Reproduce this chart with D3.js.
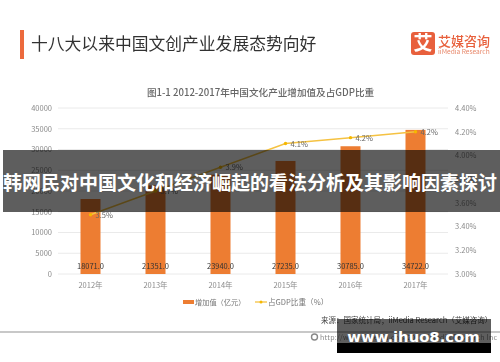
<!DOCTYPE html>
<meta charset="utf-8">
<style>
body { margin: 0; background: #fff; }
text { font-family: "Noto Sans CJK SC", "Noto Sans", sans-serif; }
.axis path, .axis line { display: none; }
.axis text { font-size: 7.5px; fill: #8a8a8a; }
</style>
<div id="chart"></div>
<script src="https://d3js.org/d3.v7.min.js"></script>
<script>
var years = ["2012年", "2013年", "2014年", "2015年", "2016年", "2017年"];
var addedValue = [18071.0, 21351.0, 23940.0, 27235.0, 30785.0, 34722.0];
var gdpShare = [3.5, 3.7, 3.9, 4.1, 4.15, 4.2];
var gdpLabels = ["3.5%", "3.7%", "3.9%", "4.1%", "4.2%", "4.2%"];
var leftTicks = [0, 5000, 10000, 15000, 20000, 25000, 30000, 35000, 40000];
var rightTicks = [3.0, 3.2, 3.4, 3.6, 3.8, 4.0, 4.2, 4.4];

var w = 500, h = 362;

var svg = d3.select("#chart").append("svg")
  .attr("width", w)
  .attr("height", h)
  .style("display", "block");

// the reference is a soft, upscaled screenshot
svg.append("filter").attr("id", "soft")
  .append("feGaussianBlur").attr("stdDeviation", 0.45);

var page = svg.append("g").attr("filter", "url(#soft)");

var x = d3.scaleBand().domain(years).range([58, 448]);
var yLeft = d3.scaleLinear().domain([0, 40000]).range([274, 108]);
var yRight = d3.scaleLinear().domain([3.0, 4.4]).range([274, 108]);

// header
page.append("rect").attr("x", 20).attr("y", 30).attr("width", 4).attr("height", 29).attr("fill", "#ec6a3c");
page.append("text").attr("x", 31).attr("y", 50).attr("font-size", 16.8).attr("fill", "#333")
  .text("十八大以来中国文创产业发展态势向好");

// logo
page.append("rect").attr("x", 411).attr("y", 32).attr("width", 24).attr("height", 23).attr("rx", 3).attr("fill", "#e8613c");
page.append("text").attr("x", 423).attr("y", 50).attr("text-anchor", "middle").attr("font-size", 19).attr("font-weight", 700).attr("fill", "#fff").text("艾");
page.append("text").attr("x", 438).attr("y", 46).attr("font-size", 13).attr("font-weight", 500).attr("fill", "#e8613c").text("艾媒咨询");
page.append("text").attr("x", 438).attr("y", 54).attr("font-size", 6.6).attr("fill", "#e8896c").text("iiMedia Research");

page.append("text").attr("x", 260.5).attr("y", 96).attr("text-anchor", "middle").attr("font-size", 9.6).attr("font-weight", 500).attr("fill", "#666")
  .text("图1-1 2012-2017年中国文化产业增加值及占GDP比重");

// grid
page.append("g").selectAll("line").data(leftTicks).enter().append("line")
  .attr("x1", 58).attr("x2", 448)
  .attr("y1", function (d) { return yLeft(d); })
  .attr("y2", function (d) { return yLeft(d); })
  .attr("stroke", "#eaeaea");

// axes
page.append("g").attr("class", "axis").attr("transform", "translate(52,0)")
  .call(d3.axisLeft(yLeft).tickValues(leftTicks).tickSize(0).tickPadding(0).tickFormat(d3.format("d")));
page.append("g").attr("class", "axis").attr("transform", "translate(455,0)")
  .call(d3.axisRight(yRight).tickValues(rightTicks).tickSize(0).tickPadding(0).tickFormat(function (d) { return d.toFixed(2) + "%"; }));
page.append("g").attr("class", "axis").attr("transform", "translate(0,283)")
  .call(d3.axisBottom(x).tickSize(0).tickPadding(0));

// bars
page.append("g").selectAll("rect").data(addedValue).enter().append("rect")
  .attr("x", function (d, i) { return x(years[i]) + x.bandwidth() / 2 - 10; })
  .attr("y", function (d) { return yLeft(d); })
  .attr("width", 20)
  .attr("height", function (d) { return yLeft(0) - yLeft(d); })
  .attr("fill", "#ed7d31");

page.append("g").selectAll("text").data(addedValue).enter().append("text")
  .attr("x", function (d, i) { return x(years[i]) + x.bandwidth() / 2; })
  .attr("y", 269)
  .attr("text-anchor", "middle")
  .attr("font-size", 7.5)
  .attr("fill", "#333")
  .text(function (d) { return d.toFixed(1); });

// line
var line = d3.line()
  .x(function (d, i) { return x(years[i]) + x.bandwidth() / 2; })
  .y(function (d) { return yRight(d); });

page.append("path").datum(gdpShare)
  .attr("d", line)
  .attr("fill", "none")
  .attr("stroke", "#f5c242")
  .attr("stroke-width", 1.5);

page.append("g").selectAll("circle").data(gdpShare).enter().append("circle")
  .attr("cx", function (d, i) { return x(years[i]) + x.bandwidth() / 2; })
  .attr("cy", function (d) { return yRight(d); })
  .attr("r", 1.7)
  .attr("fill", "#f5b800");

page.append("g").selectAll("text").data(gdpShare).enter().append("text")
  .attr("x", function (d, i) { return x(years[i]) + x.bandwidth() / 2 + 5; })
  .attr("y", function (d) { return yRight(d) + 3; })
  .attr("font-size", 7.5)
  .attr("fill", "#666")
  .text(function (d, i) { return gdpLabels[i]; });

// legend
page.append("rect").attr("x", 183).attr("y", 300).attr("width", 11).attr("height", 4).attr("fill", "#ed7d31");
page.append("text").attr("x", 195).attr("y", 305).attr("font-size", 7.2).attr("fill", "#777").text("增加值（亿元）");
page.append("line").attr("x1", 255).attr("x2", 267).attr("y1", 302).attr("y2", 302).attr("stroke", "#f5c242").attr("stroke-width", 1.3);
page.append("circle").attr("cx", 261).attr("cy", 302).attr("r", 1.5).attr("fill", "#f5b800");
page.append("text").attr("x", 268).attr("y", 305).attr("font-size", 7.6).attr("fill", "#777").text("占GDP比重（%）");

// source + footer
page.append("text").attr("x", 321).attr("y", 323).attr("font-size", 7.5).attr("fill", "#444").text("来源：国家统计局；iiMedia Research（艾媒咨询）");
page.append("rect").attr("x", 0).attr("y", 331).attr("width", w).attr("height", 2).attr("fill", "#c8c8c8");
page.append("circle").attr("cx", 314.5).attr("cy", 337).attr("r", 3).attr("fill", "none").attr("stroke", "#888").attr("stroke-width", 1.4);
page.append("text").attr("x", 320).attr("y", 340).attr("font-size", 7).attr("textLength", 177).attr("fill", "#888")
  .text("http://www.iimedia.cn  ©2018 iiMedia Research Inc");

// overlays sit on top of the chart, sharp
svg.append("rect").attr("x", 3).attr("y", 150).attr("width", 497).attr("height", 62).attr("fill", "#000").attr("opacity", 0.63);
svg.append("text").attr("x", 3).attr("y", 190).attr("font-size", 19).attr("font-weight", 700).attr("fill", "#fff")
  .text("韩网民对中国文化和经济崛起的看法分析及其影响因素探讨");

svg.append("rect").attr("x", 337).attr("y", 319).attr("width", 154).attr("height", 24).attr("fill", "#000").attr("opacity", 0.63);
svg.append("rect").attr("x", 337).attr("y", 343).attr("width", 154).attr("height", 10).attr("fill", "#000");
svg.append("text").attr("x", 413.5).attr("y", 342).attr("text-anchor", "middle").attr("font-size", 14.8).attr("font-weight", 700).attr("fill", "#fff")
  .style("font-family", "'DejaVu Sans', sans-serif")
  .text("www.ihuo8.com");
</script>
